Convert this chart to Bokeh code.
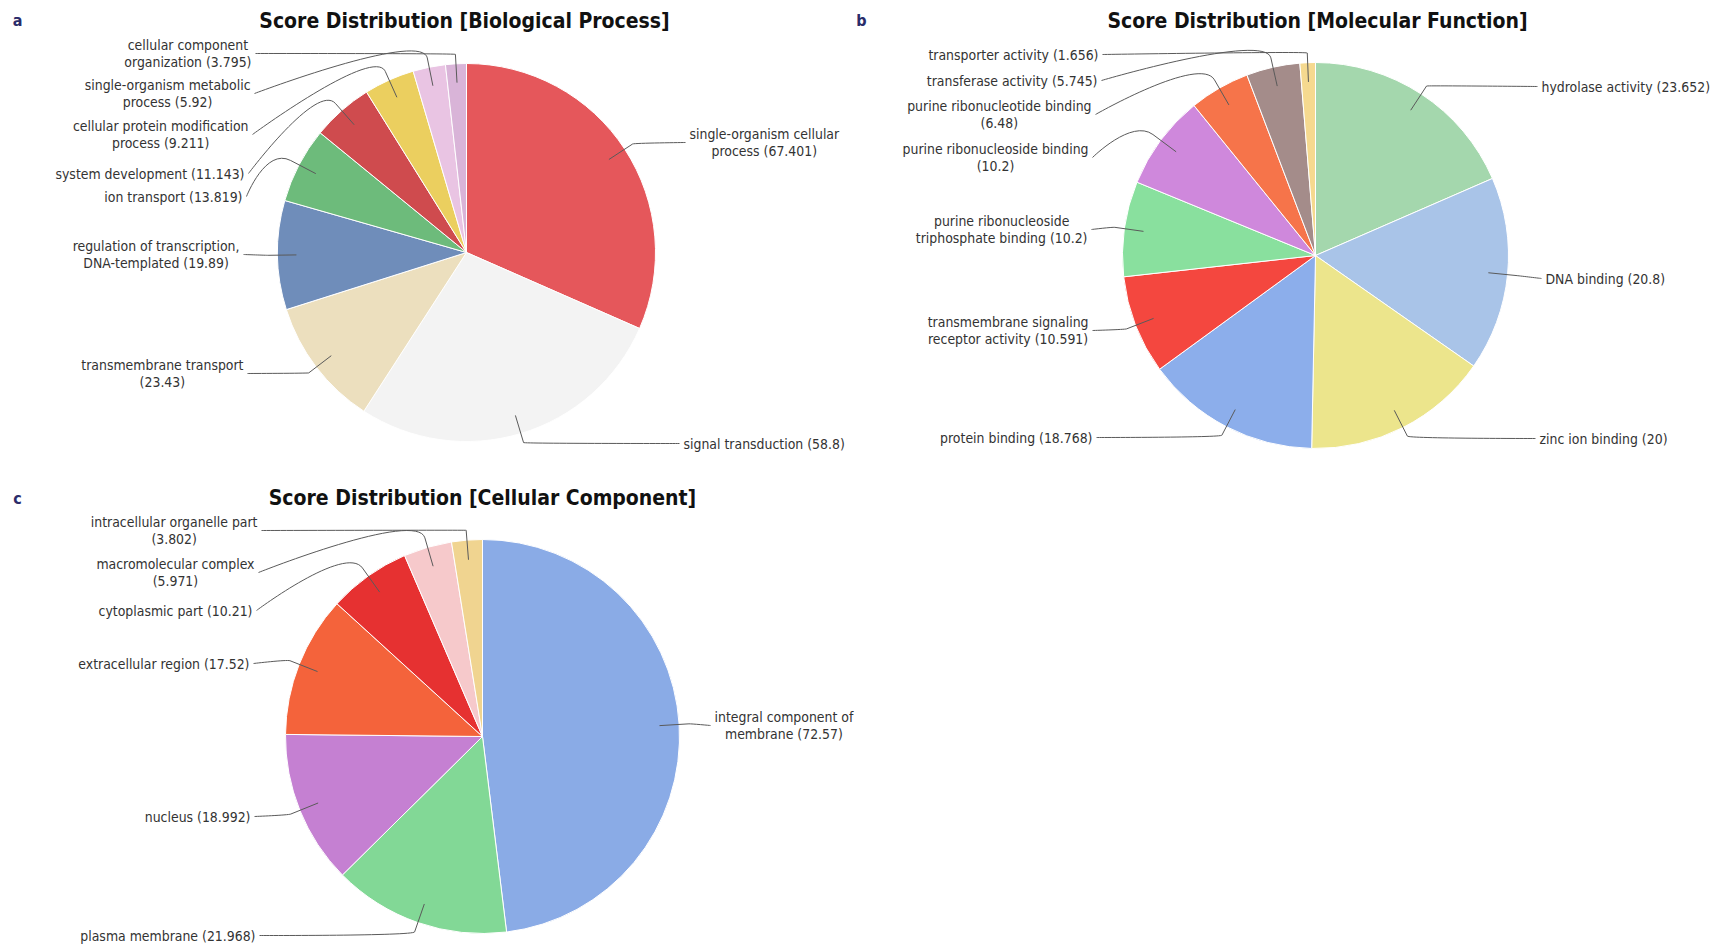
import math

from bokeh.core.properties import value
from bokeh.embed import file_html
from bokeh.models import ColumnDataSource, Range1d
from bokeh.plotting import figure
from bokeh.resources import INLINE

# ---------------------------------------------------------------- data
bp_terms = [
    "single-organism cellular process",
    "signal transduction",
    "transmembrane transport",
    "regulation of transcription, DNA-templated",
    "ion transport",
    "system development",
    "cellular protein modification process",
    "single-organism metabolic process",
    "cellular component organization",
]
bp_scores = [67.401, 58.8, 23.43, 19.89, 13.819, 11.143, 9.211, 5.92, 3.795]
bp_colors = ["#e5575b", "#f3f3f3", "#ecdfbe", "#6f8dba", "#6dbb7b",
             "#cf4b4e", "#ebcf5f", "#e9c4e3", "#d9b4d8"]

mf_terms = [
    "hydrolase activity",
    "DNA binding",
    "zinc ion binding",
    "protein binding",
    "transmembrane signaling receptor activity",
    "purine ribonucleoside triphosphate binding",
    "purine ribonucleoside binding",
    "purine ribonucleotide binding",
    "transferase activity",
    "transporter activity",
]
mf_scores = [23.652, 20.8, 20, 18.768, 10.591, 10.2, 10.2, 6.48, 5.745, 1.656]
mf_colors = ["#a4d7ad", "#a9c4e8", "#ece58c", "#8caeeb", "#f4473f",
             "#89e09e", "#cf88dc", "#f6744a", "#a48c8a", "#f5d98f"]

cc_terms = [
    "integral component of membrane",
    "plasma membrane",
    "nucleus",
    "extracellular region",
    "cytoplasmic part",
    "macromolecular complex",
    "intracellular organelle part",
]
cc_scores = [72.57, 21.968, 18.992, 17.52, 10.21, 5.971, 3.802]
cc_colors = ["#8aabe6", "#82d896", "#c580d2", "#f4633b", "#e63131", "#f6c9cb", "#f0d490"]

# ---------------------------------------------------------------- layout (page pixels, y down)
W, H = 1718, 946
LABEL_FONT = "DejaVu Sans Condensed"
TEXT_COLOR = "#333333"
CONNECTOR_COLOR = "#5a5a5a"

panels = [
    dict(terms=bp_terms, scores=bp_scores, colors=bp_colors,
         title="Score Distribution [Biological Process]", title_pos=(464, 20),
         letter="a", letter_pos=(17, 20),
         center=(466, 252), radius=189,
         anchors=[(685, 142), (679, 443), (247, 373), (243, 254), (246, 196),
                  (248, 173), (252, 134), (254, 93), (255, 53)],
         wrap=[2, 0, 2, 3, 0, 0, 3, 2, 2]),
    dict(terms=mf_terms, scores=mf_scores, colors=mf_colors,
         title="Score Distribution [Molecular Function]", title_pos=(1317, 20),
         letter="b", letter_pos=(861, 20),
         center=(1315, 255), radius=193,
         anchors=[(1537, 86), (1541, 278), (1535, 438), (1096, 437), (1092, 330),
                  (1091, 229), (1092, 157), (1095, 114), (1101, 80), (1102, 54)],
         wrap=[0, 0, 0, 0, 2, 2, 3, 3, 0, 0]),
    dict(terms=cc_terms, scores=cc_scores, colors=cc_colors,
         title="Score Distribution [Cellular Component]", title_pos=(482, 497),
         letter="c", letter_pos=(17, 498),
         center=(482, 736), radius=197,
         anchors=[(710, 725), (259, 935), (254, 816), (253, 663), (256, 610),
                  (258, 572), (261, 530)],
         wrap=[3, 0, 0, 0, 0, 2, 3]),
]

p = figure(width=W, height=H, x_range=Range1d(0, W), y_range=Range1d(0, H),
           output_backend="svg", toolbar_location=None,
           x_axis_location=None, y_axis_location=None, min_border=0)
p.outline_line_color = None
p.background_fill_color = "white"
p.border_fill_color = "white"
p.grid.visible = False


def Y(y):
    return H - y


def draw_panel(lay):
    terms, scores, colors = lay["terms"], lay["scores"], lay["colors"]
    cx, cy = lay["center"]
    r = lay["radius"]
    total = float(sum(scores))

    # slices run clockwise from 12 o'clock
    starts, ends, mids = [], [], []
    acc = 0.0
    for s in scores:
        f0 = acc / total
        acc += s
        f1 = acc / total
        starts.append(math.pi / 2 - 2 * math.pi * f0)
        ends.append(math.pi / 2 - 2 * math.pi * f1)
        mids.append(math.pi * (f0 + f1))
    src = ColumnDataSource(dict(start=starts, end=ends, color=colors))
    p.wedge(x=cx, y=Y(cy), radius=r, start_angle="start", end_angle="end",
            direction="clock", fill_color="color", line_color="white",
            line_width=1, source=src)

    # connectors: short spoke out of the slice, then a curve to the label
    seg = dict(x0=[], y0=[], x1=[], y1=[])
    bez = dict(x0=[], y0=[], x1=[], y1=[], cx0=[], cy0=[], cx1=[], cy1=[])
    left = dict(x=[], y=[], text=[])
    right = dict(x=[], y=[], text=[])
    for i, (term, s) in enumerate(zip(terms, scores)):
        ux, uy = math.sin(mids[i]), -math.cos(mids[i])
        p0 = (cx + 0.9 * r * ux, cy + 0.9 * r * uy)
        b = (cx + 1.05 * r * ux, cy + 1.05 * r * uy)
        lx, ly = lay["anchors"][i]
        k = min(abs(ly - b[1]) / 25.0, 1.0)
        c0 = (b[0] + (b[0] - p0[0]) * k, b[1] + (b[1] - p0[1]) * k)
        seg["x0"].append(p0[0]); seg["y0"].append(Y(p0[1]))
        seg["x1"].append(b[0]); seg["y1"].append(Y(b[1]))
        bez["x0"].append(b[0]); bez["y0"].append(Y(b[1]))
        bez["x1"].append(lx); bez["y1"].append(Y(ly))
        bez["cx0"].append(c0[0]); bez["cy0"].append(Y(c0[1]))
        bez["cx1"].append(lx); bez["cy1"].append(Y(ly))

        words = f"{term} ({s:g})".split(" ")
        n = lay["wrap"][i]
        label = " ".join(words[:n]) + "\n" + " ".join(words[n:]) if n else " ".join(words)
        if lx > cx:
            right["x"].append(lx + 4); right["y"].append(Y(ly)); right["text"].append(label)
        else:
            left["x"].append(lx - 4); left["y"].append(Y(ly)); left["text"].append(label)

    p.segment(x0="x0", y0="y0", x1="x1", y1="y1", source=ColumnDataSource(seg),
              line_color=CONNECTOR_COLOR, line_width=1)
    p.bezier(x0="x0", y0="y0", x1="x1", y1="y1", cx0="cx0", cy0="cy0",
             cx1="cx1", cy1="cy1", source=ColumnDataSource(bez),
             line_color=CONNECTOR_COLOR, line_width=1)

    for group, anchor in ((left, "center_right"), (right, "center_left")):
        if group["x"]:
            p.text(x="x", y="y", text="text", source=ColumnDataSource(group),
                   anchor=anchor, text_align="center", text_baseline="middle",
                   text_font=value(LABEL_FONT), text_font_size="13.9px",
                   text_color=TEXT_COLOR, text_line_height=1.05)

    tx, ty = lay["title_pos"]
    p.text(x=[tx], y=[Y(ty)], text=[lay["title"]], text_align="center",
           text_baseline="middle", text_font=value(LABEL_FONT),
           text_font_size="21px", text_font_style="bold", text_color="#111111")
    lx, ly = lay["letter_pos"]
    p.text(x=[lx], y=[Y(ly)], text=[lay["letter"]], text_align="center",
           text_baseline="middle", text_font=value(LABEL_FONT),
           text_font_size="16px", text_font_style="bold", text_color="#2a2c6a")


for lay in panels:
    draw_panel(lay)

open("out.html", "w").write(file_html(p, INLINE))
